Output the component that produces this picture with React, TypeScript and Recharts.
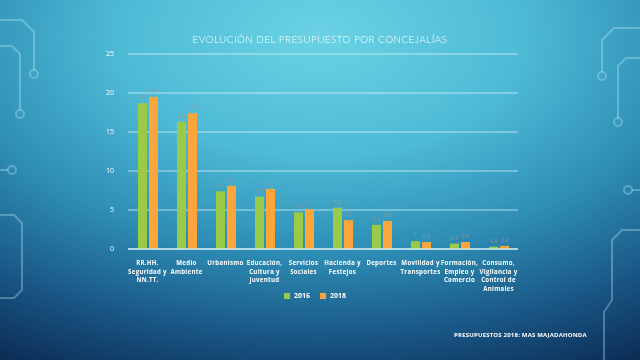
import { BarChart, Bar, XAxis, YAxis, CartesianGrid, Legend, LabelList } from 'recharts'

const categories = [
  'RR.HH.\nSeguridad y\nNN.TT.',
  'Medio\nAmbiente',
  'Urbanismo',
  'Educación,\nCultura y\nJuventud',
  'Servicios\nSociales',
  'Hacienda y\nFestejos',
  'Deportes',
  'Movilidad y\nTransportes',
  'Formación,\nEmpleo y\nComercio',
  'Consumo,\nVigilancia y\nControl de\nAnimales',
]
const values2016 = [18.7, 16.3, 7.4, 6.7, 4.7, 5.3, 3.1, 1, 0.7, 0.3]
const values2018 = [19.5, 17.4, 8.1, 7.7, 5.1, 3.7, 3.6, 0.9, 0.9, 0.4]
const yTicks = [0, 5, 10, 15, 20, 25]

const data = categories.map((name, i) => ({
  name,
  y2016: values2016[i],
  y2018: values2018[i],
}))

const fmt = (v: any) => String(v).replace('.', ',')

function CategoryTick({ x, y, payload }: any) {
  const lines = String(payload.value).split('\n')
  return (
    <text x={x} y={y + 8} textAnchor="middle" fill="#ffffff" fontSize={6.1} fontWeight={700} letterSpacing={0.3}>
      {lines.map((l, i) => (
        <tspan key={i} x={x} dy={i === 0 ? 0 : 8.5}>{l}</tspan>
      ))}
    </text>
  )
}

export default function App() {
  return (
    <div
      style={{
        position: 'fixed',
        top: 0,
        left: 0,
        width: 640,
        height: 360,
        overflow: 'hidden',
        background:
          'radial-gradient(ellipse 100% 105% at 50% 10%, #6ad2e3 0%, #4dbad6 32%, #2d8cb4 58%, #195685 80%, #0b2a52 100%)',
        fontFamily: '"Open Sans", sans-serif',
      }}
    >
      <svg width={640} height={360} style={{ position: 'absolute', left: 0, top: 0 }}>
        <g stroke="rgba(190,235,245,0.35)" strokeWidth={2} fill="none">
          <path d="M0 20 H22 L34 32 V70" />
          <circle cx={34} cy={74} r={4} />
          <path d="M0 46 H12 L20 54 V110" />
          <circle cx={20} cy={114} r={4} />
          <path d="M0 170 H8" />
          <circle cx={12} cy={170} r={4} />
          <path d="M0 215 H14 L22 223 V290 L14 298 H0" />
          <path d="M640 28 H614 L602 40 V72" />
          <circle cx={602} cy={76} r={4} />
          <path d="M640 58 H626 L618 66 V118" />
          <circle cx={618} cy={122} r={4} />
          <path d="M640 230 H622 L612 240 V300 L604 312 V360" />
          <circle cx={628} cy={190} r={4} />
          <path d="M640 190 H632" />
        </g>
      </svg>
      <div
        style={{
          position: 'absolute',
          top: 33,
          left: 0,
          width: 640,
          textAlign: 'center',
          color: '#ffffff',
          fontSize: 10,
          letterSpacing: 0.4,
          fontWeight: 300,
          fontFamily: 'Lato, sans-serif',
        }}
      >
        EVOLUCIÓN DEL PRESUPUESTO POR CONCEJALÍAS
      </div>
      <div
        style={{
          position: 'absolute',
          top: 331,
          left: 454,
          color: '#ffffff',
          fontSize: 6,
          fontWeight: 700,
          letterSpacing: 0.2,
        }}
      >
        PRESUPUESTOS 2018: MAS MAJADAHONDA
      </div>
      <div style={{ position: 'absolute', left: 0, top: 0 }}>
        <BarChart
          width={640}
          height={360}
          data={data}
          margin={{ top: 54, right: 122, bottom: 52, left: 98 }}
          barSize={9}
          barGap={2}
        >
          <CartesianGrid vertical={false} stroke="rgba(220,245,250,0.75)" strokeWidth={1.2} />
          <XAxis
            dataKey="name"
            tick={<CategoryTick />}
            tickLine={false}
            axisLine={{ stroke: 'rgba(220,245,250,0.8)', strokeWidth: 1.5 }}
            interval={0}
            height={50}
          />
          <YAxis
            domain={[0, 25]}
            ticks={yTicks}
            width={30}
            tickLine={false}
            axisLine={false}
            tick={{ fill: '#ffffff', fontSize: 7 }}
            tickMargin={8}
          />
          <Legend
            verticalAlign="bottom"
            iconType="square"
            iconSize={6}
            wrapperStyle={{ position: 'absolute', top: 291, left: 0, width: 640, fontSize: 7, fontWeight: 700 }}
            formatter={(v: any) => <span style={{ color: '#ffffff' }}>{v}</span>}
          />
          <Bar dataKey="y2016" name="2016" fill="#9acb48" isAnimationActive={false}>
            <LabelList dataKey="y2016" position="top" formatter={fmt} fill="#9a9a9a" fontSize={5} offset={4} />
          </Bar>
          <Bar dataKey="y2018" name="2018" fill="#fba53a" isAnimationActive={false}>
            <LabelList dataKey="y2018" position="top" formatter={fmt} fill="#9a9a9a" fontSize={5} offset={4} />
          </Bar>
        </BarChart>
      </div>
    </div>
  )
}
